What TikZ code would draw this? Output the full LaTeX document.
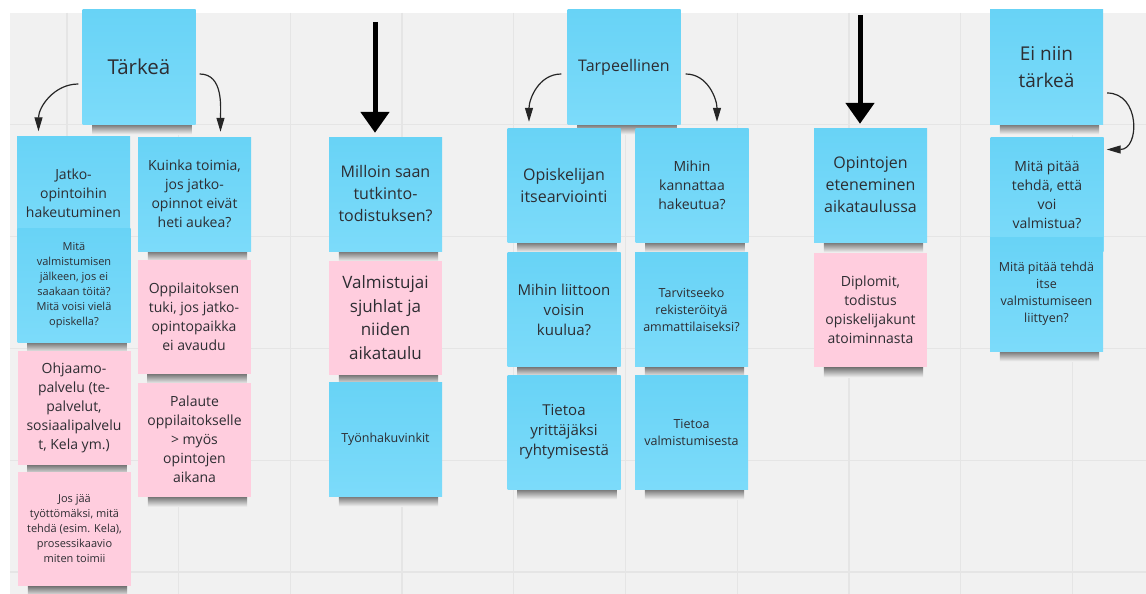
\documentclass[tikz,border=0pt]{standalone}
\usepackage{fontspec}
\setmainfont{Open Sans}
\usetikzlibrary{arrows.meta}
\definecolor{board}{RGB}{241,241,241}
\definecolor{gridc}{RGB}{229,229,229}
\definecolor{bluetop}{RGB}{104,211,246}
\definecolor{bluebot}{RGB}{124,219,250}
\definecolor{pinknote}{RGB}{255,205,222}
\definecolor{inkc}{RGB}{45,45,50}
\pgfdeclarelayer{background}
\pgfsetlayers{background,main}
\begin{document}
\begin{tikzpicture}[x=1pt, y=-1pt,
  note/.style={minimum width=113pt, minimum height=114pt, inner sep=2pt, align=center, text=inkc},
  bluenote/.style={note, top color=bluetop, bottom color=bluebot},
  pinkn/.style={note, fill=pinknote},
  fxl/.style={font=\fontsize{20.5}{27}\selectfont},
  flg/.style={font=\fontsize{16}{22}\selectfont},
  fmd/.style={font=\fontsize{14}{19}\selectfont},
  fsm/.style={font=\fontsize{12.5}{17}\selectfont},
  fxs/.style={font=\fontsize{11}{15}\selectfont},
  curvy/.style={draw=black!85, line width=1.2pt, -{Triangle[length=14pt, width=8pt]}},
  bigarrow/.style={draw=black, line width=5pt, -{Triangle[length=21pt, width=28pt]}, shorten >=4pt}]
\useasboundingbox (0,0) rectangle (1146,594);
\begin{pgfonlayer}{background}
\fill[white] (0,0) rectangle (1146,594);
\fill[board] (10,13) rectangle (1146,594);
\foreach \i in {0,...,9}
  \draw[gridc, line width=1.3pt] ({67+111.7*\i},13) -- ({67+111.7*\i},594);
\foreach \j in {1,...,5}
  \draw[gridc, line width=1.3pt] (10,{13+111.8*\j}) -- (1146,{13+111.8*\j});
\end{pgfonlayer}
% Tärkeä
\node[bluenote, fxl] (N_1_0) at (139,67) {Tärkeä};
\node[bluenote, fmd] (N_1_1) at (73.5,193.5) {Jatko-\\opintoihin\\hakeutuminen};
\node[bluenote, fxs] (N_1_2) at (74,285) {Mitä\\valmistumisen\\jälkeen, jos ei\\saakaan töitä?\\Mitä voisi vielä\\opiskella?};
\node[pinkn, fmd] (N_1_3) at (74,407.5) {Ohjaamo-\\palvelu (te-\\palvelut,\\sosiaalipalvelu\\t, Kela ym.)};
\node[pinkn, fxs] (N_1_4) at (74.5,529) {Jos jää\\työttömäksi, mitä\\tehdä (esim. Kela),\\prosessikaavio\\miten toimii};
\node[bluenote, fmd] (N_2_1) at (194.5,194) {Kuinka toimia,\\jos jatko-\\opinnot eivät\\heti aukea?};
\node[pinkn, fmd] (N_2_2) at (194,316.5) {Oppilaitoksen\\tuki, jos jatko-\\opintopaikka\\ei avaudu};
\node[pinkn, fmd] (N_2_3) at (194.5,439.5) {Palaute\\oppilaitokselle\\> myös\\opintojen\\aikana};
\draw[curvy] ([xshift=-4pt, yshift=-17pt]N_1_0.west) to[out=180, in=90] ([xshift=-35pt, yshift=5pt]N_1_1.north);
\draw[curvy] ([xshift=4pt, yshift=-7pt]N_1_0.east) to[out=0, in=90] ([xshift=26pt, yshift=5pt]N_2_1.north);
% Milloin
\coordinate (A_3) at (375,22);
\node[bluenote, flg] (N_3_1) at (385.5,194) {Milloin saan\\tutkinto-\\todistuksen?};
\node[pinkn, font=\fontsize{17}{23.5}\selectfont] (N_3_2) at (385.5,317.5) {Valmistujai\\sjuhlat ja\\niiden\\aikataulu};
\node[bluenote, fsm] (N_3_3) at (385.5,439) {Työnhakuvinkit};
\draw[bigarrow] (A_3) -- (N_3_1.north -| A_3);
% Tarpeellinen
\node[bluenote, flg] (N_4_0) at (624,67) {Tarpeellinen};
\node[bluenote, flg] (N_4_1) at (564,185) {Opiskelijan\\itsearviointi};
\node[bluenote, font=\fontsize{15}{20}\selectfont] (N_4_2) at (564,309.5) {Mihin liittoon\\voisin\\kuulua?};
\node[bluenote, font=\fontsize{15}{20}\selectfont] (N_4_3) at (564,432) {Tietoa\\yrittäjäksi\\ryhtymisestä};
\node[bluenote, fmd] (N_5_1) at (692,185) {Mihin\\kannattaa\\hakeutua?};
\node[bluenote, fsm] (N_5_2) at (691.5,309.5) {Tarvitseeko\\rekisteröityä\\ammattilaiseksi?};
\node[bluenote, fsm] (N_5_3) at (691.5,432) {Tietoa\\valmistumisesta};
\draw[curvy] ([xshift=-6pt, yshift=-7pt]N_4_0.west) to[out=180, in=90] ([xshift=-35pt, yshift=6pt]N_4_1.north);
\draw[curvy] ([xshift=5pt, yshift=-7pt]N_4_0.east) to[out=0, in=90] ([xshift=25pt, yshift=6pt]N_5_1.north);
% Opintojen eteneminen
\coordinate (A_6) at (860,15);
\node[bluenote, flg] (N_6_1) at (870.5,185) {Opintojen\\eteneminen\\aikataulussa};
\node[pinkn, fmd] (N_6_2) at (870.5,310) {Diplomit,\\todistus\\opiskelijakunt\\atoiminnasta};
\draw[bigarrow] (A_6) -- (N_6_1.north -| A_6);
% Ei niin tärkeä
\node[bluenote, font=\fontsize{19}{27}\selectfont] (N_7_0) at (1046.5,67) {Ei niin\\tärkeä};
\node[bluenote, fmd] (N_7_1) at (1047,194.5) {Mitä pitää\\tehdä, että\\voi\\valmistua?};
\node[bluenote, fsm] (N_7_2) at (1046.5,294) {Mitä pitää tehdä\\itse\\valmistumiseen\\liittyen?};
\draw[curvy] ([xshift=4pt, yshift=-26pt]N_7_0.east) to[out=0, in=0, looseness=1.5] ([xshift=3pt, yshift=45pt]N_7_1.east);
% shadows
\begin{pgfonlayer}{background}
\foreach \n in {N_1_0, N_1_1, N_1_2, N_1_3, N_1_4, N_2_1, N_2_2, N_2_3, N_3_1, N_3_2, N_3_3, N_4_0, N_4_1, N_4_2, N_4_3, N_5_1, N_5_2, N_5_3, N_6_1, N_6_2, N_7_0, N_7_1, N_7_2}
  \shade[top color=black!55, bottom color=board] ([xshift=10pt]\n.south west) rectangle ([xshift=-4pt, yshift=-10pt]\n.south east);
\end{pgfonlayer}
\end{tikzpicture}
\end{document}
